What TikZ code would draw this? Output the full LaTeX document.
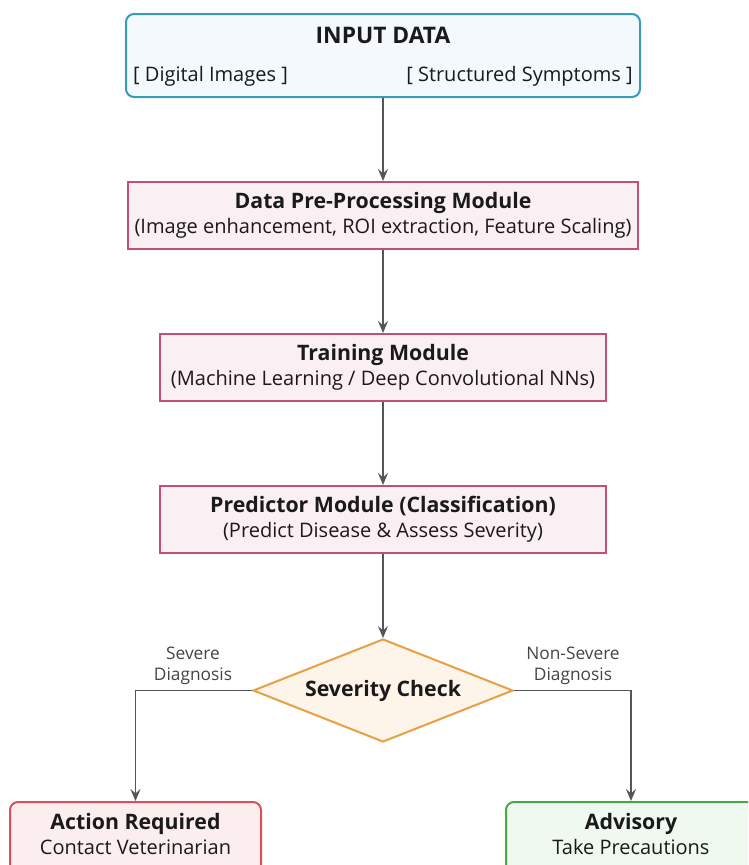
\documentclass[tikz,border=0pt]{standalone}
\usepackage{fontspec}
\setmainfont{Open Sans}
\usetikzlibrary{shapes.geometric,arrows.meta}
\definecolor{inBorder}{HTML}{3A9BB8}
\definecolor{inFill}{HTML}{F3F9FC}
\definecolor{modBorder}{HTML}{C0507A}
\definecolor{modFill}{HTML}{FAF0F4}
\definecolor{dBorder}{HTML}{E9A043}
\definecolor{dFill}{HTML}{FDF4EA}
\definecolor{redBorder}{HTML}{D9505A}
\definecolor{redFill}{HTML}{FCEEEE}
\definecolor{grnBorder}{HTML}{44AA44}
\definecolor{grnFill}{HTML}{EFF9EF}
\definecolor{arrowGray}{HTML}{555555}
\definecolor{txt}{HTML}{1A1A1A}
\definecolor{lblGray}{HTML}{444444}
\tikzset{
  modbox/.style={draw=modBorder, fill=modFill, line width=2pt, minimum height=67pt, inner sep=0pt},
  roundbox/.style={rounded corners=8pt, line width=2pt, inner sep=0pt},
  conn/.style={draw=arrowGray, line width=1.8pt, -{Stealth[length=12pt,width=10pt,inset=4.5pt]}},
  ttl/.style={font=\fontsize{21.3}{25}\selectfont\bfseries, text=txt, inner sep=0pt, anchor=base},
  sub/.style={font=\fontsize{20}{24}\selectfont, text=txt, inner sep=0pt, anchor=base},
  lbl/.style={font=\fontsize{17.3}{21}\selectfont, text=lblGray, inner sep=0pt, anchor=base}
}
\begin{document}
\begin{tikzpicture}[x=1pt,y=-1pt]
\clip (0,0) rectangle (748,865);
\fill[white] (0,0) rectangle (748,865);
% input box
\node[roundbox, draw=inBorder, fill=inFill, minimum width=514pt, minimum height=83pt] (input) at (383,55.5) {};
\node[ttl, font=\fontsize{22.8}{26}\selectfont\bfseries] (inputT) at (383,43.3) {INPUT DATA};
\node[sub, anchor=base west] (inputL) at (133,81.5) {[ Digital Images ]};
\node[sub, anchor=base east] (inputR) at (633,81.5) {[ Structured Symptoms ]};
% modules
\node[modbox, minimum width=510pt] (pre) at (383,215.5) {};
\node[ttl] (preT) at (383,208.3) {Data Pre-Processing Module};
\node[sub] (preS) at (383,233.5) {(Image enhancement, ROI extraction, Feature Scaling)};
\node[modbox, minimum width=446pt] (train) at (383,367.5) {};
\node[ttl] (trainT) at (383,360.3) {Training Module};
\node[sub] (trainS) at (383,385.5) {(Machine Learning / Deep Convolutional NNs)};
\node[modbox, minimum width=446pt] (pred) at (383,519.5) {};
\node[ttl] (predT) at (383,512.3) {Predictor Module (Classification)};
\node[sub] (predS) at (383,537.5) {(Predict Disease \& Assess Severity)};
% diamond
\node[diamond, draw=dBorder, fill=dFill, line width=2pt, aspect=2.52, minimum width=260pt, minimum height=103pt, inner sep=0pt] (sev) at (383,690.5) {};
\node[ttl] (sevT) at (383,696.7) {Severity Check};
% outcome boxes
\node[roundbox, draw=redBorder, fill=redFill, minimum width=251pt, minimum height=100pt, anchor=north] (act) at (135.5,801) {};
\node[ttl] (actT) at (135.5,829.3) {Action Required};
\node[sub] (actS) at (135.5,854) {Contact Veterinarian};
\node[roundbox, draw=grnBorder, fill=grnFill, minimum width=252pt, minimum height=100pt, anchor=north west] (adv) at (505,801) {};
\node[ttl] (advT) at (631,829.3) {Advisory};
\node[sub] (advS) at (631,854) {Take Precautions};
% connectors
\draw[conn] (input.south) -- (pre.north);
\draw[conn] (pre.south) -- (train.north);
\draw[conn] (train.south) -- (pred.north);
\draw[conn] (pred.south) -- (sev.north);
\draw[conn] (sev.west) -| (act.north);
\draw[conn] (sev.east) -| (adv.north -| advT);
% labels
\node[lbl] (lsev1) at (193,659.3) {Severe};
\node[lbl] (lsev2) at (193,680) {Diagnosis};
\node[lbl] (lnon1) at (573,659.3) {Non-Severe};
\node[lbl] (lnon2) at (573,680) {Diagnosis};
\end{tikzpicture}
\end{document}
